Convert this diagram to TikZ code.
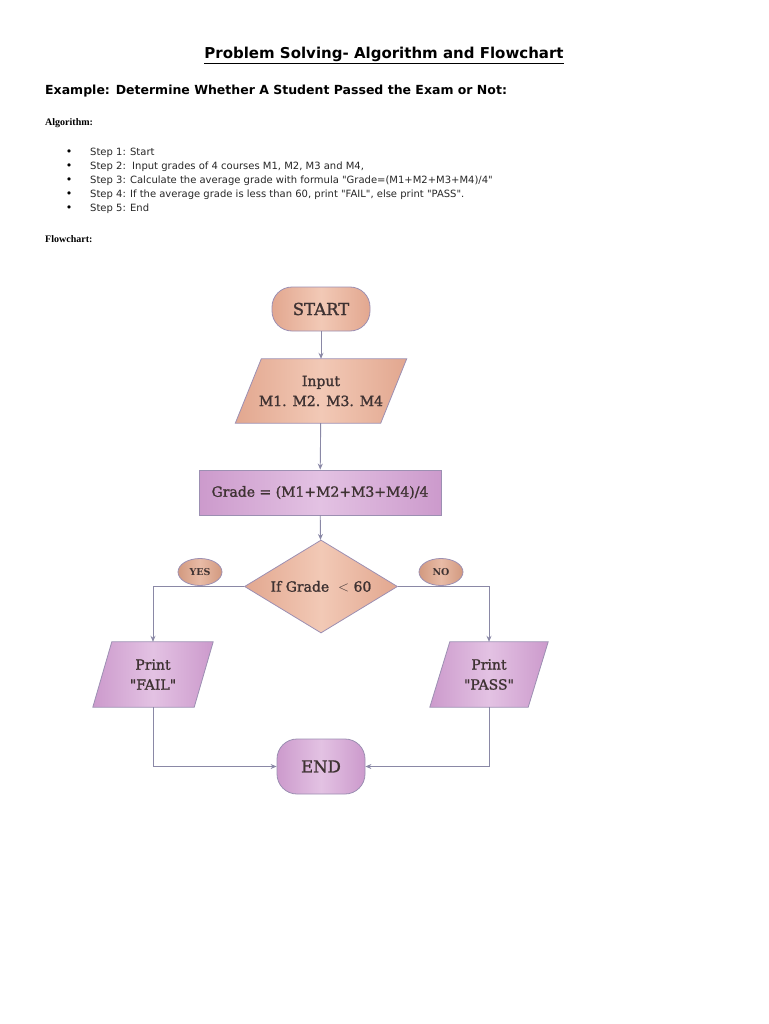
\documentclass[tikz,border=0pt]{standalone}
\usepackage{fontspec}
\setmainfont{DejaVu Sans}[Ligatures=TeXOff]
\newfontface\serifFC[FakeBold=1.4]{DejaVu Serif}
\newfontfamily\serifFCb{DejaVu Serif}
\newfontfamily\timesB{Liberation Serif}
\usetikzlibrary{shapes.geometric,arrows.meta,backgrounds}
\definecolor{peachE}{HTML}{E2A78F}
\definecolor{peachM}{HTML}{F2C9B6}
\definecolor{tagE}{HTML}{D2997F}
\definecolor{tagM}{HTML}{E8BBA6}
\definecolor{lilacE}{HTML}{CC9ACC}
\definecolor{lilacM}{HTML}{E3C2E3}
\definecolor{bordC}{HTML}{9C8FB2}
\definecolor{lineC}{HTML}{8A88A6}
\definecolor{fcText}{HTML}{3E3232}
\tikzset{
  x=1pt, y=-1pt,
  fctext/.style={font=\serifFC\fontsize{14}{20}\selectfont, text=fcText, align=center},
  peach/.style={left color=peachE, right color=peachE, middle color=peachM},
  lilac/.style={left color=lilacE, right color=lilacE, middle color=lilacM},
  border/.style={draw=bordC, line width=0.8pt},
  term/.style={border, rounded corners=20pt, inner sep=0pt, fctext, font=\serifFC\fontsize{16.5}{19}\selectfont},
  procbox/.style={border, lilac, inner sep=0pt, fctext},
  decbox/.style={diamond, aspect=1.645, border, peach, inner sep=0pt, fctext},
  parabox/.style={draw=none, inner sep=0pt, fctext},
  tag/.style={ellipse, border, left color=tagE, right color=tagE, middle color=tagM, inner sep=0pt, minimum width=44pt, minimum height=27pt, font=\serifFCb\bfseries\fontsize{9.5}{11}\selectfont, text=fcText},
  arr/.style={draw=lineC, line width=0.9pt, -{Stealth[length=6pt,width=5pt]}},
  steptext/.style={anchor=base west, font=\fontsize{10}{11}\selectfont, text=black!85, inner sep=0pt},
  bul/.style={anchor=base, font=\fontsize{11}{11}\selectfont, inner sep=0pt},
}
\begin{document}
\begin{tikzpicture}
\useasboundingbox (0,0) rectangle (768,1024);
% header texts
\node[anchor=base, inner sep=0pt, font=\bfseries\fontsize{15}{18}\selectfont] (title) at (384,59) {\underline{Problem Solving- Algorithm and Flowchart}};
\node[anchor=base west, inner sep=0pt, font=\bfseries\fontsize{12.5}{15}\selectfont] (ex) at (45,95) {Example: Determine Whether A Student Passed the Exam or Not:};
\node[anchor=base west, inner sep=0pt, font=\timesB\bfseries\fontsize{10}{12}\selectfont] (alg) at (45,126) {Algorithm:};
\foreach \i/\t in {0/{Step 1: Start},1/{Step 2:\ \ Input grades of 4 courses M1, M2, M3 and M4,},2/{Step 3: Calculate the average grade with formula "Grade=(M1+M2+M3+M4)/4"},3/{Step 4: If the average grade is less than 60, print "FAIL", else print "PASS".},4/{Step 5: End}}{
  \node[bul] (b\i) at (69,156+14*\i) {\textbullet};
  \node[steptext] (s\i) at (90,156+14*\i) {\t};
}
\node[anchor=base west, inner sep=0pt, font=\timesB\bfseries\fontsize{10}{12}\selectfont] (fc) at (45,243) {Flowchart:};

% flowchart nodes
\node[term, peach, minimum width=98pt, minimum height=44pt] (start) at (321,309) {START};
\node[parabox, minimum width=145pt, minimum height=64pt] (in) at (321,391) {Input\\M1. M2. M3. M4};
\node[procbox, minimum width=242pt, minimum height=45pt] (grade) at (320,492.5) {Grade = (M1+M2+M3+M4)/4};
\node[decbox, minimum width=153pt, minimum height=93pt] (dec) at (321,586.5) {If Grade \ $<$ 60};
\node[tag] (yes) at (200,572) {YES};
\node[tag] (no) at (441,572) {NO};
\node[parabox, minimum width=101pt, minimum height=65pt] (fail) at (153,674.5) {Print\\"FAIL"};
\node[parabox, minimum width=98pt, minimum height=65pt] (pass) at (489,674.5) {Print\\"PASS"};
\node[term, lilac, minimum width=88pt, minimum height=55pt] (end) at (321,766.5) {END};

\begin{scope}[on background layer]
  \foreach \n/\o/\c in {in/13/peach, fail/9.5/lilac, pass/10/lilac}{
    \path[border, \c] ([xshift=\o pt]\n.north west) -- ([xshift=\o pt]\n.north east)
      -- ([xshift=-\o pt]\n.south east) -- ([xshift=-\o pt]\n.south west) -- cycle;
  }
\end{scope}

% connectors
\draw[arr] (start) -- (in);
\draw[arr] (in) -- (grade);
\draw[arr] (grade) -- (dec);
\draw[arr] (dec.west) -| (fail.north);
\draw[arr] (dec.east) -| (pass.north);
\draw[arr] (fail.south) |- (end.west);
\draw[arr] (pass.south) |- (end.east);
\end{tikzpicture}
\end{document}
